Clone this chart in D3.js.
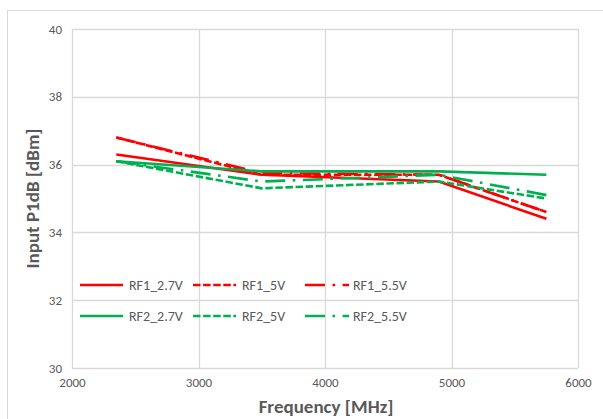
<!DOCTYPE html>
<html>
<head>
<meta charset="utf-8">
<script src="https://cdn.jsdelivr.net/npm/d3@7"></script>
<style>
  body { margin: 0; background: #fff; }
  svg { font-family: Calibri, Carlito, Lato, "Noto Sans", sans-serif; }
</style>
</head>
<body>
<svg id="chart" width="603" height="419"></svg>
<script>
// frequencies (MHz) where each curve was measured
var freqs = [2350, 3500, 4900, 5750];

var seriesNames = ["RF1_2.7V", "RF1_5V", "RF1_5.5V", "RF2_2.7V", "RF2_5V", "RF2_5.5V"];
var rf1_27 = [36.3, 35.7, 35.5, 34.4];
var rf1_5 = [36.8, 35.7, 35.7, 34.6];
var rf1_55 = [36.8, 35.75, 35.7, 34.6];
var rf2_27 = [36.1, 35.8, 35.8, 35.7];
var rf2_5 = [36.1, 35.3, 35.5, 35.0];
var rf2_55 = [36.1, 35.5, 35.7, 35.1];

var xTicks = [2000, 3000, 4000, 5000, 6000];
var yTicks = [30, 32, 34, 36, 38, 40];

var red = "#ff0000";
var green = "#00b050";
var lineWidth = 2.6;
var dashes = {
  solid: null,
  dash: "7.5,2.6",
  dashdot: "20,7.5,2.6,7.5",
};

var series = [
  { name: seriesNames[0], values: rf1_27, color: red, dash: dashes.solid },
  { name: seriesNames[1], values: rf1_5, color: red, dash: dashes.dash },
  { name: seriesNames[2], values: rf1_55, color: red, dash: dashes.dashdot },
  { name: seriesNames[3], values: rf2_27, color: green, dash: dashes.solid },
  { name: seriesNames[4], values: rf2_5, color: green, dash: dashes.dash },
  { name: seriesNames[5], values: rf2_55, color: green, dash: dashes.dashdot },
];

var svg = d3.select("#chart");
var margin = { left: 72, top: 29, right: 25, bottom: 51 };
var plotW = 603 - margin.left - margin.right;
var plotH = 419 - margin.top - margin.bottom;

// outer chart border (runs off the right and bottom of the picture)
svg.append("rect")
  .attr("x", 7.5).attr("y", 10.5)
  .attr("width", 620).attr("height", 430)
  .attr("fill", "none").attr("stroke", "#d9d9d9");

var x = d3.scaleLinear().domain([2000, 6000]).range([0, plotW]);
var y = d3.scaleLinear().domain([30, 40]).range([plotH, 0]);

var g = svg.append("g").attr("transform", `translate(${margin.left},${margin.top})`);

// grid
g.append("g").selectAll("line.h").data(yTicks).join("line")
  .attr("x1", 0).attr("x2", plotW)
  .attr("y1", (d) => Math.round(y(d)) + 0.5).attr("y2", (d) => Math.round(y(d)) + 0.5)
  .attr("stroke", "#d9d9d9").attr("stroke-width", 1.3);
g.append("g").selectAll("line.v").data(xTicks).join("line")
  .attr("y1", 0).attr("y2", plotH)
  .attr("x1", (d) => Math.round(x(d)) + 0.5).attr("x2", (d) => Math.round(x(d)) + 0.5)
  .attr("stroke", "#d9d9d9").attr("stroke-width", 1.3);

// axes
var xAxis = g.append("g")
  .attr("transform", `translate(0,${plotH})`)
  .call(d3.axisBottom(x).tickValues(xTicks).tickSize(0).tickPadding(10).tickFormat(d3.format("d")));
var yAxis = g.append("g")
  .call(d3.axisLeft(y).tickValues(yTicks).tickSize(0).tickPadding(10).tickFormat(d3.format("d")));
[xAxis, yAxis].forEach((a) => {
  a.select(".domain").remove();
  a.selectAll("text")
    .attr("fill", "#595959")
    .style("font-size", "13px")
    .style("font-family", "Calibri, Carlito, Lato, 'Noto Sans', sans-serif");
});

// lines
var line = d3.line()
  .x((d, i) => x(freqs[i]))
  .y((d) => y(d));

g.append("g").selectAll("path").data(series).join("path")
  .attr("d", (d) => line(d.values))
  .attr("fill", "none")
  .attr("stroke", (d) => d.color)
  .attr("stroke-width", lineWidth)
  .attr("stroke-dasharray", (d) => d.dash);

// axis titles
svg.append("text")
  .attr("x", 326).attr("y", 413)
  .attr("text-anchor", "middle")
  .attr("fill", "#595959")
  .style("font-size", "19px").style("font-weight", "bold")
  .text("Frequency [MHz]");

svg.append("text")
  .attr("transform", `translate(39,${margin.top + plotH / 2}) rotate(-90)`)
  .attr("text-anchor", "middle")
  .attr("fill", "#595959")
  .style("font-size", "19px").style("font-weight", "bold")
  .text("Input P1dB [dBm]");

// legend, 3 per row
var legX = [80, 193, 305];
var legY = [285, 316];
var leg = svg.append("g").selectAll("g").data(series).join("g")
  .attr("transform", (d, i) => `translate(${legX[i % 3]},${legY[Math.floor(i / 3)]})`);
leg.append("line")
  .attr("x1", 0).attr("x2", (d, i) => (i % 3 == 2 ? 44 : 43))
  .attr("y1", 0).attr("y2", 0)
  .attr("stroke", (d) => d.color)
  .attr("stroke-width", lineWidth)
  .attr("stroke-dasharray", (d) => d.dash);
leg.append("text")
  .attr("x", (d, i) => (i % 3 == 2 ? 48 : 49))
  .attr("y", 0).attr("dy", "0.35em")
  .attr("fill", "#595959")
  .style("font-size", "14px")
  .text((d) => d.name);
</script>
</body>
</html>
